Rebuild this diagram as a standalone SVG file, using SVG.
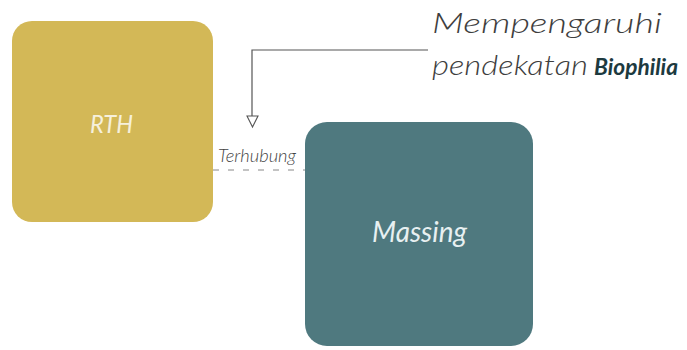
<svg xmlns="http://www.w3.org/2000/svg" width="687" height="350" viewBox="0 0 687 350">
<style>
.lbl{font-family:Lato,"Noto Sans",sans-serif;font-style:italic}
.note{fill:#3e3e3e;font-size:27px;font-weight:300}
.conn{stroke:#555;stroke-width:1.2;fill:none}
</style>
<rect width="687" height="350" fill="#fff"/>
<g id="rth">
<rect x="12" y="21" width="201" height="201" rx="20" fill="#D3B857"/>
<text class="lbl" x="90" y="133" font-size="25" fill="#f6f0dc" textLength="43" lengthAdjust="spacingAndGlyphs">RTH</text>
</g>
<g id="massing">
<rect x="305" y="122" width="228" height="224" rx="22" fill="#4F797F"/>
<text class="lbl" x="372" y="242" font-size="28" fill="#e8f0f1" textLength="95" lengthAdjust="spacingAndGlyphs">Massing</text>
</g>
<g id="note">
<text class="lbl note" x="432" y="33" textLength="230" lengthAdjust="spacingAndGlyphs">Mempengaruhi</text>
<text class="lbl note" x="432" y="75" textLength="156" lengthAdjust="spacingAndGlyphs">pendekatan</text>
<text class="lbl" x="594" y="75" font-size="23" font-weight="700" fill="#1d3a3f" textLength="84" lengthAdjust="spacingAndGlyphs">Biophilia</text>
</g>
<g id="connectors">
<path class="conn" d="M428,50 H252 V116"/>
<path d="M247,116 L258,116 L252.5,127 Z" fill="#fff" stroke="#555" stroke-width="1.1"/>
<line x1="213" y1="170" x2="305" y2="170" stroke="#888" stroke-width="1" stroke-dasharray="6,9"/>
<text class="lbl" x="218" y="162" font-size="17" font-weight="300" fill="#444" textLength="78" lengthAdjust="spacingAndGlyphs">Terhubung</text>
</g>
</svg>
